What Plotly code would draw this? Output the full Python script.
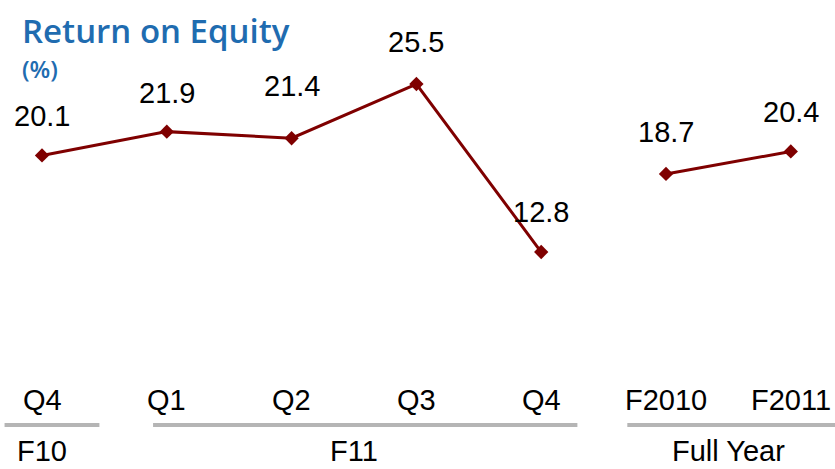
import plotly.graph_objects as go

categories = ["Q4", "Q1", "Q2", "Q3", "Q4", "F2010", "F2011"]
roe = [20.1, 21.9, 21.4, 25.5, 12.8, 18.7, 20.4]
groups = ["F10", "F11", "Full Year"]
group_spans = [(0, 0), (1, 4), (5, 6)]
label_shift = [39, 39, 52, 42, 40, 42, 39]

W, H = 835, 469
LINE = "#7f0000"
FONT = "Liberation Sans, Arial, sans-serif"
FS = 29

fig = go.Figure()
fig.add_trace(go.Scatter(x=list(range(0, 5)), y=roe[0:5], mode="lines+markers",
                         line=dict(color=LINE, width=3),
                         marker=dict(symbol="diamond", size=11, color=LINE),
                         hoverinfo="skip"))
fig.add_trace(go.Scatter(x=list(range(5, 7)), y=roe[5:7], mode="lines+markers",
                         line=dict(color=LINE, width=3),
                         marker=dict(symbol="diamond", size=11, color=LINE),
                         hoverinfo="skip"))

ann = []
for i, v in enumerate(roe):
    ann.append(dict(x=i, y=v, xref="x", yref="y", text=f"{v:.1f}", showarrow=False,
                    yanchor="middle", yshift=label_shift[i],
                    font=dict(family=FONT, size=FS, color="#000000")))
for i, c in enumerate(categories):
    ann.append(dict(x=i, y=1 - 400 / H, xref="x", yref="paper", text=c, showarrow=False,
                    yanchor="middle", font=dict(family=FONT, size=FS, color="#000000")))

bar_pad = [(-0.30, 0.46), (-0.11, 0.29), (-0.31, 0.36)]
shapes = []
for (s, e), (pl, pr), g in zip(group_spans, bar_pad, groups):
    shapes.append(dict(type="line", xref="x", yref="paper", x0=s + pl, x1=e + pr,
                       y0=1 - 425 / H, y1=1 - 425 / H,
                       line=dict(color="#b5b5b5", width=4)))
    ann.append(dict(x=(s + e) / 2, y=1 - 451 / H, xref="x", yref="paper", text=g,
                    showarrow=False, yanchor="middle", borderpad=0,
                    font=dict(family=FONT, size=FS, color="#000000")))

ann.append(dict(x=20 / W, y=1 - 30 / H, xref="paper", yref="paper", xanchor="left",
                yanchor="middle", text="Return on Equity", showarrow=False,
                font=dict(family="Open Sans, Noto Sans, sans-serif", size=33, weight=600,
                          color="#1f6cb0")))
ann.append(dict(x=20 / W, y=1 - 68 / H, xref="paper", yref="paper", xanchor="left",
                yanchor="middle", text="(%)", showarrow=False,
                font=dict(family="Open Sans, Noto Sans, sans-serif", size=24, weight=600,
                          color="#1f6cb0")))

px_per_x = 124.8
x0_px = 42
k = 13.23
ymax = 25.5 + 84 / k
ymin = ymax - H / k

fig.update_layout(
    width=W, height=H, margin=dict(l=0, r=0, t=0, b=0),
    paper_bgcolor="white", plot_bgcolor="white", showlegend=False,
    xaxis=dict(range=[-x0_px / px_per_x, (W - x0_px) / px_per_x], visible=False, fixedrange=True),
    yaxis=dict(range=[ymin, ymax], visible=False, fixedrange=True),
    annotations=ann, shapes=shapes,
)
fig.write_html("out.html", config={"displayModeBar": False},
               post_script="document.body.style.margin='0';document.body.style.overflow='hidden';")
